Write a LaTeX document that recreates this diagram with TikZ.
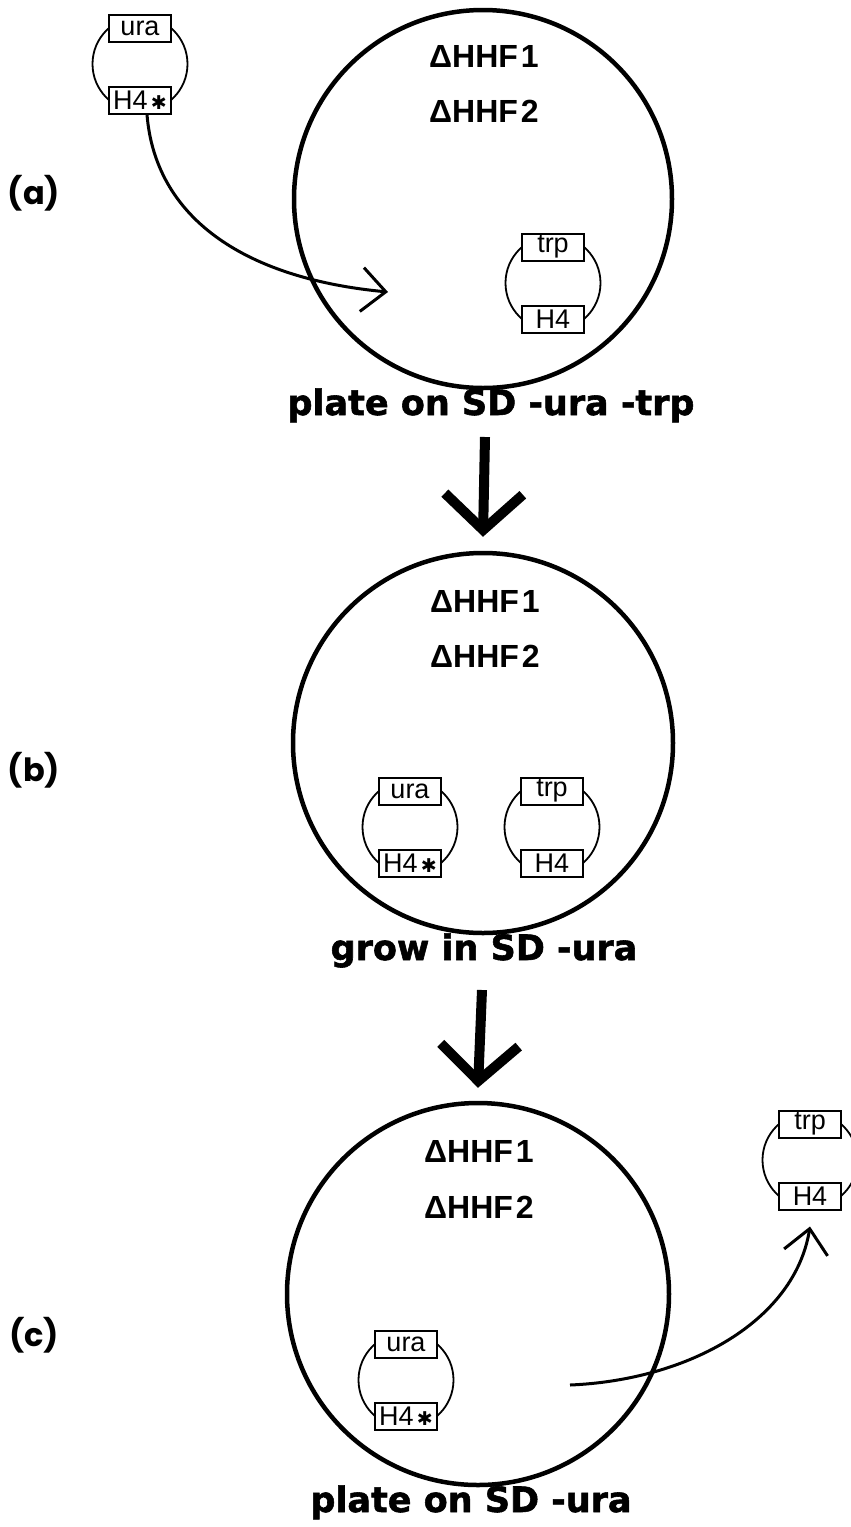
\documentclass[tikz,border=0pt]{standalone}
\usepackage{fontspec}
\setmainfont{Liberation Sans}
\newfontfamily\heavyfont{DejaVu Sans}[BoldFeatures={FakeBold=1.6}]
\newfontfamily\symfont{DejaVu Sans}
\newfontfamily\geomfont{Poppins}
\usetikzlibrary{arrows.meta}

% plasmid: ring with a marker box on top and bottom
% #1 name, #2 x, #3 y, #4 top marker, #5 bottom marker
\newcommand\plasmid[5]{%
  \node[ring] (#1) at (#2,#3) {};
  \node[gene] (#1-top) at (#2,#3-36) {#4};
  \node[gene] (#1-bot) at (#2,#3+36) {#5};
}
\newcommand\mutH{H4{\symfont\bfseries\fontsize{19}{19}\selectfont\,✱}}

\begin{document}
\begin{tikzpicture}[x=1pt,y=-1pt,
  plate/.style={circle, draw, line width=4.5pt, inner sep=0pt},
  ring/.style={circle, draw, line width=1.8pt, minimum size=95pt, inner sep=0pt},
  gene/.style={draw, fill=white, line width=2pt, minimum width=62pt,
    minimum height=27pt, inner sep=0pt, font=\fontsize{27}{27}\selectfont},
  strain/.style={anchor=base, inner sep=0pt, font=\bfseries\fontsize{32}{32}\selectfont},
  medium/.style={anchor=base, inner sep=0pt, font=\heavyfont\bfseries\fontsize{35}{35}\selectfont},
  panel/.style={font=\geomfont\bfseries\fontsize{32}{32}\selectfont},
  flow/.style={line width=10pt, -{Straight Barb[length=36pt,width=78pt]}},
  transfer/.style={line width=3pt, -{Straight Barb[length=24pt,width=44pt]}}
]
\useasboundingbox (0,0) rectangle (851,1527);

% ---------- step (a) ----------
\node[plate, minimum size=378pt] (plateA) at (483,199) {};
\node[strain] (hhf1A) at (484,67) {ΔHHF\kern3pt1};
\node[strain] (hhf2A) at (484,122) {ΔHHF\kern3pt2};
\plasmid{trpA}{553}{283}{trp}{H4}
\plasmid{uraA}{140}{64}{ura}{\mutH}
\node[medium] (medA) at (491,415) {plate on SD -ura -trp};
\node[panel] (panA) at (34,193) {(a)};
\coordinate (tipA) at (388,292);
\draw[transfer] ([xshift=7pt]uraA-bot.south)
  .. controls (155,215) and (240,278) .. (tipA);

% ---------- step (b) ----------
\coordinate (flowA) at (485,437);
\node[plate, minimum size=380pt] (plateB) at (483,743) {};
\draw[flow] (flowA) -- ([yshift=14pt]plateB.north);
\node[strain] (hhf1B) at (485,612) {ΔHHF\kern3pt1};
\node[strain] (hhf2B) at (485,667) {ΔHHF\kern3pt2};
\plasmid{uraB}{410}{827}{ura}{\mutH}
\plasmid{trpB}{552}{827}{trp}{H4}
\node[medium] (medB) at (484,960) {grow in SD -ura};
\node[panel] (panB) at (34,770) {(b)};

% ---------- step (c) ----------
\coordinate (flowB) at (482,990);
\node[plate, minimum size=382pt] (plateC) at (478,1294) {};
\draw[flow] (flowB) -- ([yshift=13pt]plateC.north);
\node[strain] (hhf1C) at (479,1162) {ΔHHF\kern3pt1};
\node[strain] (hhf2C) at (479,1218) {ΔHHF\kern3pt2};
\plasmid{uraC}{406}{1380}{ura}{\mutH}
\plasmid{trpC}{810}{1160}{trp}{H4}
\node[medium] (medC) at (471,1512) {plate on SD -ura};
\node[panel] (panC) at (34,1335) {(c)};
\coordinate (startC) at (570,1385);
\draw[transfer] (startC)
  .. controls (690,1380) and (795,1320) .. ([yshift=-16pt]trpC-bot.south);
\end{tikzpicture}
\end{document}
